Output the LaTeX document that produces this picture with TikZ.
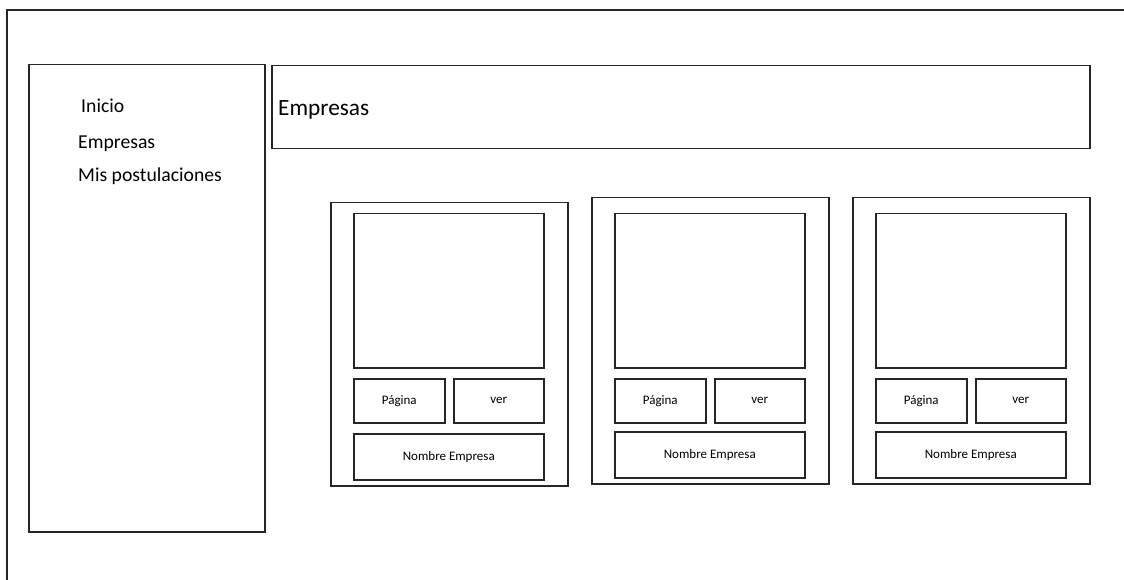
\documentclass[tikz,border=0pt]{standalone}
\usepackage{fontspec}
\setmainfont{Carlito}
\begin{document}
\begin{tikzpicture}[x=1pt,y=-1pt,
  line/.style={draw=black!85, line width=1.5pt},
  box/.style={line, rectangle, inner sep=0pt, anchor=north west},
  navtext/.style={anchor=base west, inner sep=0pt, font=\fontsize{19.7}{24}\selectfont},
  titletext/.style={anchor=base west, inner sep=0pt, font=\fontsize{23.3}{28}\selectfont},
  smalltext/.style={font=\fontsize{13}{15}\selectfont}]
\useasboundingbox (0,0) rectangle (1124,580);
% outer frame (open at right and bottom)
\draw[line] (7,580) -- (7,10) -- (1124,10);
% sidebar
\node[box, minimum width=236pt, minimum height=467pt] (sidebar) at (28,64) {};
\node[navtext] (inicio) at (81,113) {Inicio};
\node[navtext] (empresas) at (78,149) {Empresas};
\node[navtext] (mispost) at (78,182) {Mis postulaciones};
% header
\node[box, minimum width=818pt, minimum height=83pt] (header) at (271,65) {};
\node[titletext] (title) at (278,116) {Empresas};
% cards
\foreach \i/\ox/\oy/\oh/\ix/\ny in {1/330/202/283/353/433, 2/591/197/286/614/431, 3/852/197/286/875/431}{
  \node[box, minimum width=237pt, minimum height=\oh pt] (card\i) at (\ox,\oy) {};
  \node[box, minimum width=190pt, minimum height=154pt] (img\i) at (\ix,213) {};
  \node[box, smalltext, minimum width=91pt, minimum height=44pt] (pag\i) at (\ix,378) {};
  \node[smalltext] at (pag\i.center) {Página};
  \node[box, smalltext, minimum width=90pt, minimum height=44pt] (ver\i) at (\ix+100,378) {};
  \node[smalltext] at (ver\i.center) {ver};
  \node[box, minimum width=190pt, minimum height=46pt] (nombre\i) at (\ix,\ny) {};
  \node[smalltext] at (nombre\i.center) {Nombre Empresa};
}
\end{tikzpicture}
\end{document}
